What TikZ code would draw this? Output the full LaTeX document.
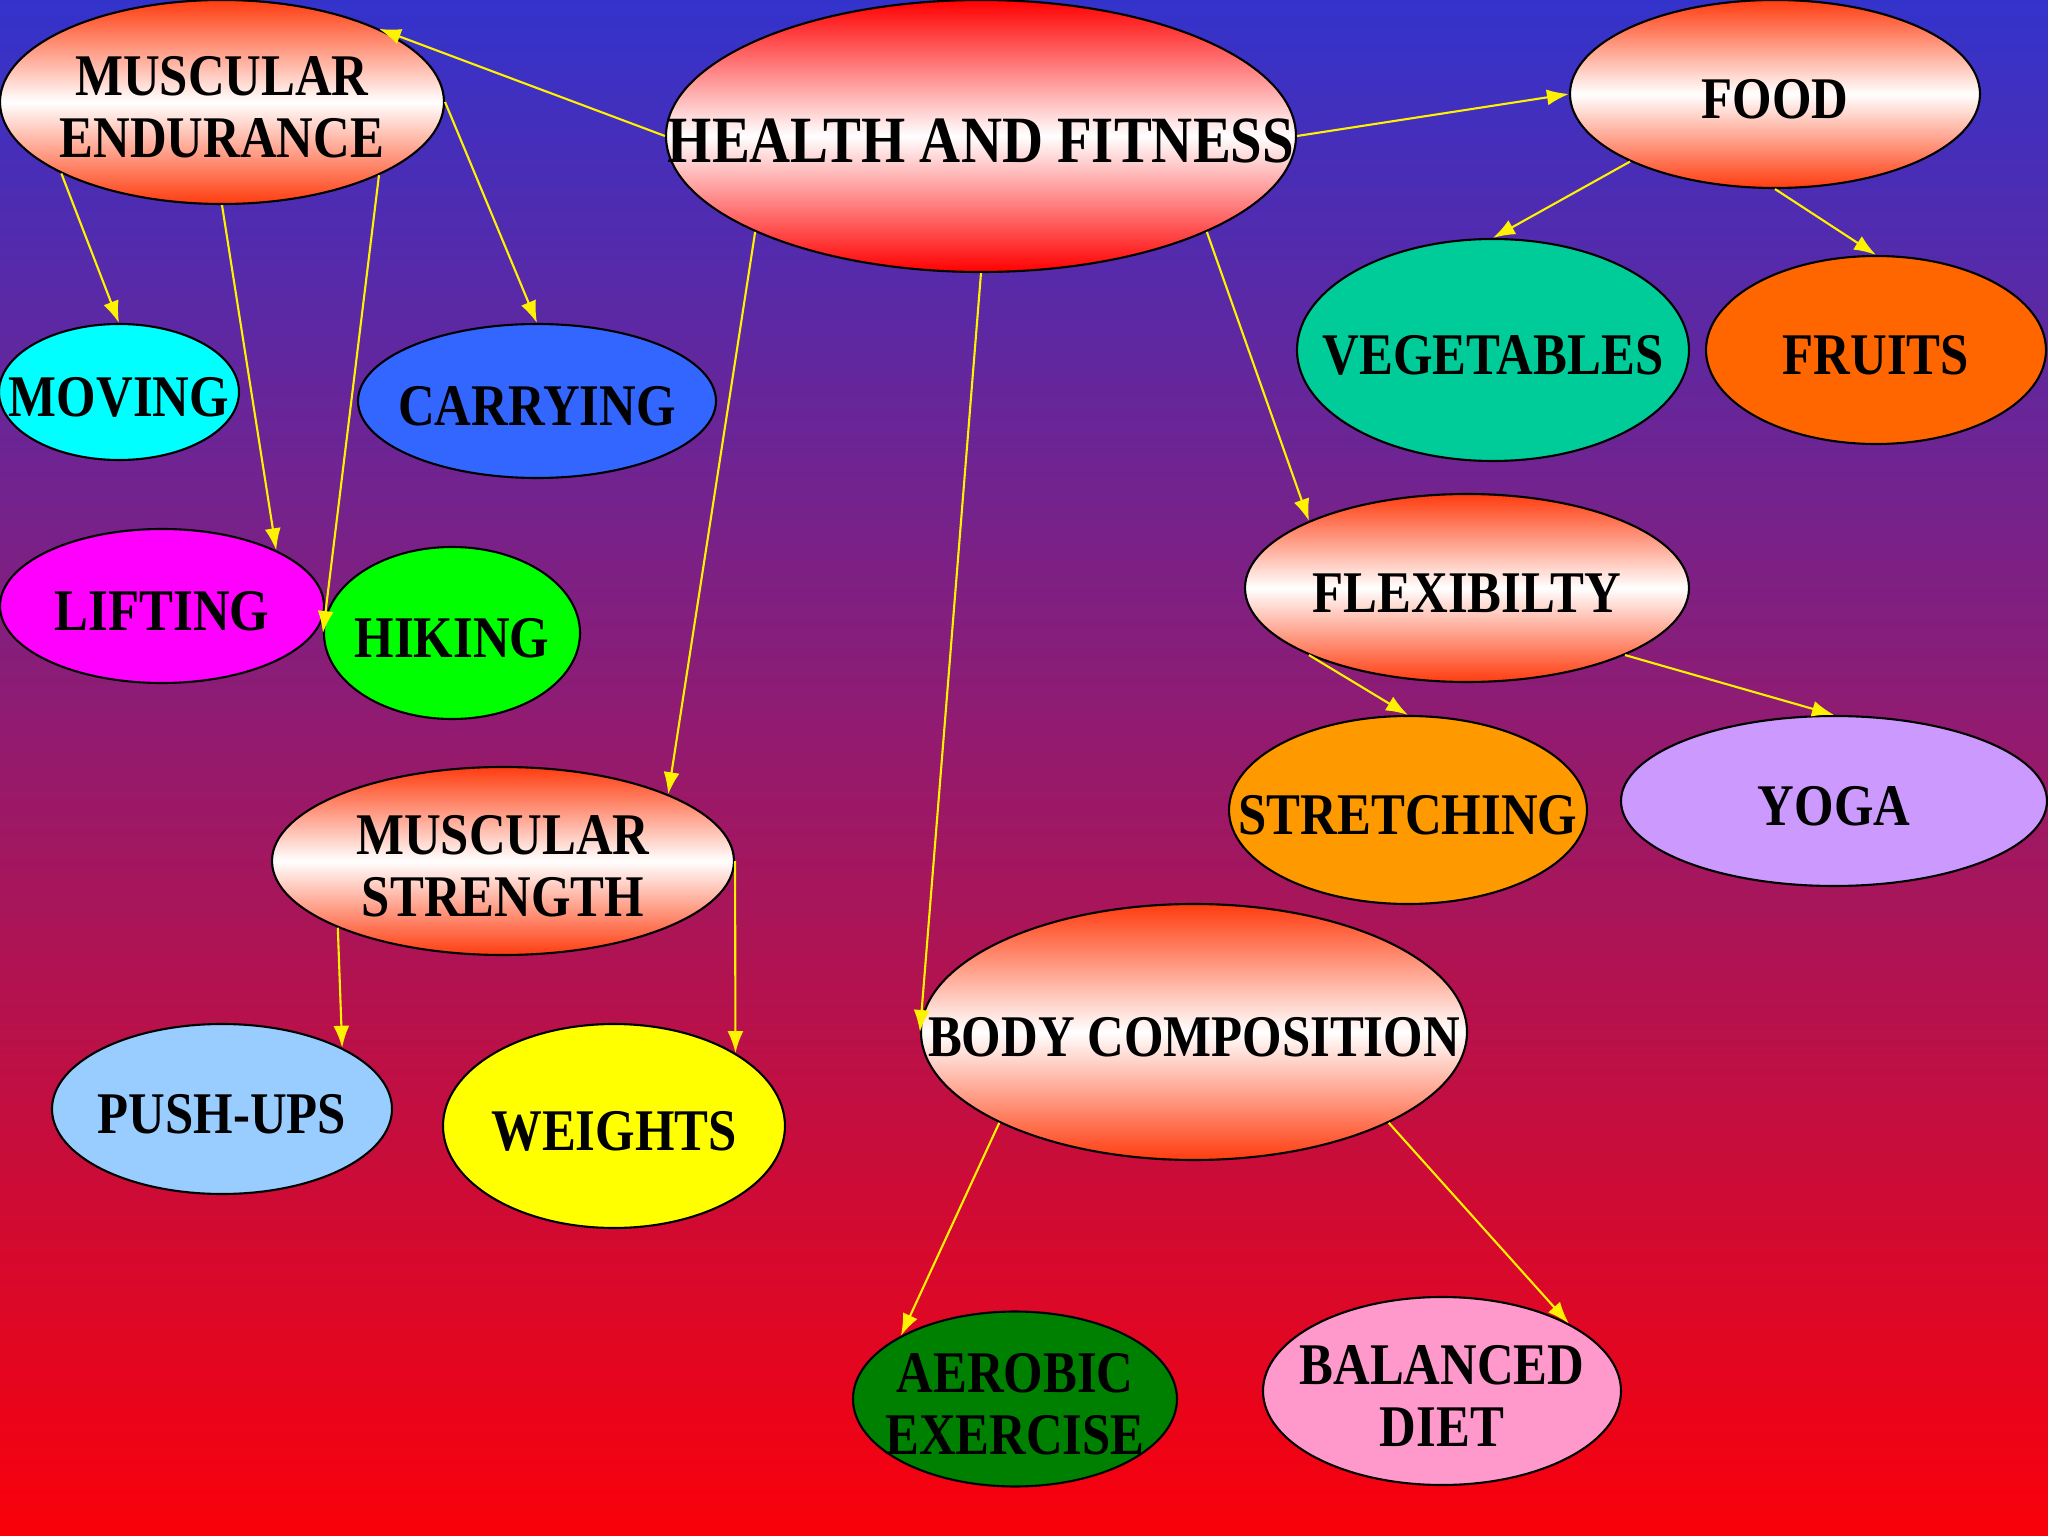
\documentclass[tikz,border=0pt]{standalone}
\usepackage{fontspec}
\setmainfont{Liberation Serif}[FakeStretch=0.86]
\usetikzlibrary{arrows.meta, shapes.geometric}
\definecolor{bgtop}{RGB}{51,51,204}
\definecolor{bgbot}{RGB}{250,0,10}
\definecolor{hot}{RGB}{255,0,0}
\definecolor{ora}{RGB}{255,60,15}
\definecolor{cMov}{RGB}{0,255,255}
\definecolor{cCar}{RGB}{51,102,255}
\definecolor{cVeg}{RGB}{0,204,153}
\definecolor{cFru}{RGB}{255,102,0}
\definecolor{cLif}{RGB}{255,0,255}
\definecolor{cHik}{RGB}{0,255,0}
\definecolor{cStr}{RGB}{255,153,0}
\definecolor{cYog}{RGB}{204,153,255}
\definecolor{cPus}{RGB}{153,204,255}
\definecolor{cWei}{RGB}{255,255,0}
\definecolor{cAer}{RGB}{0,128,0}
\definecolor{cBal}{RGB}{255,153,204}
\newcommand\lbl[1]{\makebox[0pt]{\raisebox{-1.2mm}[\height][\depth]{%
  \begin{tabular}{@{}c@{}}#1\end{tabular}}}}
\tikzset{
  nd/.style={
    ellipse, draw=black, line width=0.6pt, inner sep=0pt,
    font=\fontsize{16.8}{17.6}\selectfont\bfseries, text=black
  },
  gnd/.style={nd, top color=#1, bottom color=#1, middle color=white},
  cnd/.style={nd, fill=#1},
  ar/.style={-{Latex[length=2.2mm, width=1.6mm]}, yellow, line width=0.6pt},
}

\begin{document}
\begin{tikzpicture}
\useasboundingbox (0,0) rectangle (20.48,-15.36);
\fill[top color=bgtop, bottom color=bgbot] (0,0) rectangle (20.48,-15.36);

%% ============================================================
%% CENTRE
%% ============================================================
\node[gnd=hot, minimum width=6.30cm, minimum height=2.72cm,
      font=\fontsize{18.8}{20}\selectfont\bfseries] (n0) at (9.81,-1.36)
  {\lbl{HEALTH AND FITNESS}};

%% --- 1. MUSCULAR ENDURANCE ---
\node[gnd=ora, minimum width=4.44cm, minimum height=2.04cm] (n1) at (2.22,-1.02)
  {\lbl{MUSCULAR\\ENDURANCE}};
\node[cnd=cMov, minimum width=2.40cm, minimum height=1.36cm] (n1a) at (1.19,-3.92)
  {\lbl{MOVING}};
\node[cnd=cCar, minimum width=3.58cm, minimum height=1.54cm] (n1b) at (5.37,-4.01)
  {\lbl{CARRYING}};
\node[cnd=cLif, minimum width=3.24cm, minimum height=1.54cm] (n1c) at (1.62,-6.06)
  {\lbl{LIFTING}};
\node[cnd=cHik, minimum width=2.56cm, minimum height=1.72cm] (n1d) at (4.52,-6.33)
  {\lbl{HIKING}};

%% --- 2. FOOD ---
\node[gnd=ora, minimum width=4.10cm, minimum height=1.88cm] (n2) at (17.75,-0.94)
  {\lbl{FOOD}};
\node[cnd=cVeg, minimum width=3.92cm, minimum height=2.22cm] (n2a) at (14.93,-3.50)
  {\lbl{VEGETABLES}};
\node[cnd=cFru, minimum width=3.40cm, minimum height=1.88cm] (n2b) at (18.76,-3.50)
  {\lbl{FRUITS}};

%% --- 3. FLEXIBILITY ---
\node[gnd=ora, minimum width=4.44cm, minimum height=1.88cm] (n3) at (14.67,-5.88)
  {\lbl{FLEXIBILTY}};
\node[cnd=cStr, minimum width=3.58cm, minimum height=1.88cm] (n3a) at (14.08,-8.10)
  {\lbl{STRETCHING}};
\node[cnd=cYog, minimum width=4.26cm, minimum height=1.70cm] (n3b) at (18.34,-8.01)
  {\lbl{YOGA}};

%% --- 4. MUSCULAR STRENGTH ---
\node[gnd=ora, minimum width=4.62cm, minimum height=1.88cm] (n4) at (5.03,-8.61)
  {\lbl{MUSCULAR\\STRENGTH}};
\node[cnd=cPus, minimum width=3.40cm, minimum height=1.70cm] (n4a) at (2.22,-11.09)
  {\lbl{PUSH-UPS}};
\node[cnd=cWei, minimum width=3.42cm, minimum height=2.04cm] (n4b) at (6.14,-11.26)
  {\lbl{WEIGHTS}};

%% --- 5. BODY COMPOSITION ---
\node[gnd=ora, minimum width=5.46cm, minimum height=2.56cm] (n5) at (11.94,-10.32)
  {\lbl{BODY COMPOSITION}};
\node[cnd=cAer, minimum width=3.24cm, minimum height=1.72cm] (n5a) at (10.15,-13.99)
  {\lbl{AEROBIC\\EXERCISE}};
\node[cnd=cBal, minimum width=3.58cm, minimum height=1.88cm] (n5b) at (14.42,-13.91)
  {\lbl{BALANCED\\DIET}};

%% ============================================================
%% ARROWS
%% ============================================================
\draw[ar] (n0.180) -- (n1.25);
\draw[ar] (n0.0)   -- (n2.180);
\draw[ar] (n0.203) -- (n4.22);
\draw[ar] (n0.270) -- (n5.180);
\draw[ar] (n0.337) -- (n3.157);

\draw[ar] (n1.204) -- (n1a.90);
\draw[ar] (n1.270) -- (n1c.26);
\draw[ar] (n1.335) -- (n1d.180);
\draw[ar] (n1.0)   -- (n1b.90);

\draw[ar] (n2.205) -- (n2a.90);
\draw[ar] (n2.270) -- (n2b.90);

\draw[ar] (n3.203) -- (n3a.90);
\draw[ar] (n3.337) -- (n3b.90);

\draw[ar] (n4.202) -- (n4a.27);
\draw[ar] (n4.0)   -- (n4b.31);

\draw[ar] (n5.205) -- (n5a.151);
\draw[ar] (n5.335) -- (n5b.28);

\end{tikzpicture}
\end{document}
